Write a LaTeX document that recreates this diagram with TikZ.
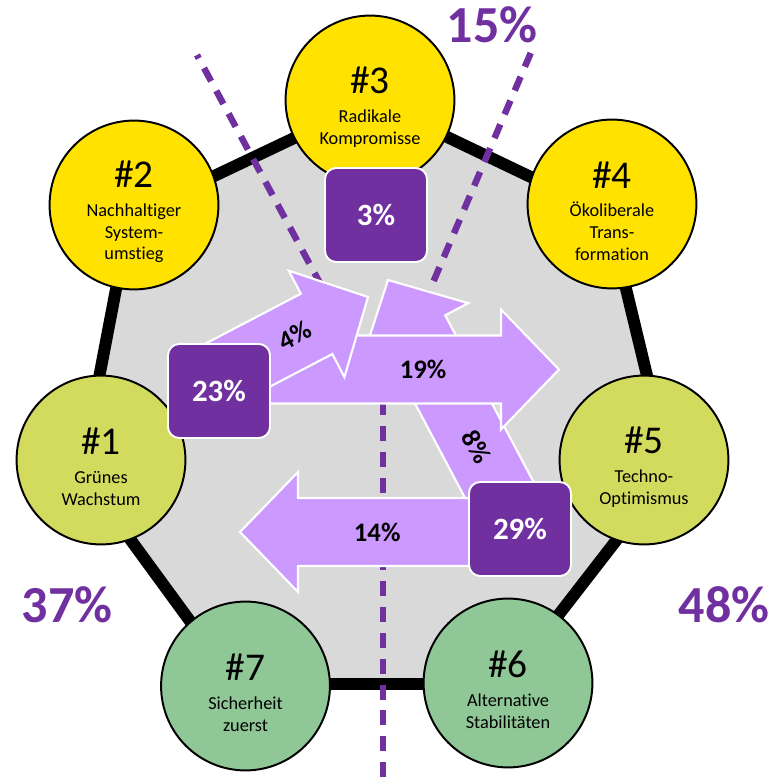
\documentclass[tikz,border=0pt]{standalone}
\usepackage{fontspec}
\setmainfont{Carlito}[Ligatures={TeX,NoCommon}]
\usetikzlibrary{calc}
\definecolor{ylw}{HTML}{FFE200}
\definecolor{grnylw}{HTML}{D3DB5E}
\definecolor{sage}{HTML}{8FC797}
\definecolor{boxpurple}{HTML}{7030A0}
\definecolor{lilac}{HTML}{CC99FF}
\definecolor{hexgray}{HTML}{D9D9D9}
\tikzset{
  circ/.style={circle,draw=black,line width=1.4pt,minimum size=4.22cm,inner sep=0pt},
  circtext/.style={align=center,font=\fontsize{13}{15.5}\selectfont,yshift=-5pt},
  sharebox/.style={rectangle,rounded corners=8pt,fill=boxpurple,draw=white,line width=1.4pt,
    minimum width=2.55cm,minimum height=2.35cm,text=white,font=\bfseries\fontsize{22}{24}\selectfont},
  arrowbody/.style={fill=lilac,draw=white,line width=1.5pt,line join=miter},
  arrowlbl/.style={font=\bfseries\fontsize{19}{21}\selectfont,sloped},
  splitline/.style={draw=boxpurple,line width=4.6pt,dash pattern=on 10.6pt off 7.8pt},
  sharelbl/.style={text=boxpurple,font=\bfseries\fontsize{37}{40}\selectfont}
}
\newcommand{\hashfont}{\fontsize{28}{30}\selectfont}
% block arrow from tail #1 to tip #2
\newcommand{\blockarrow}[2]{%
  \coordinate (hb) at ($(#2)!1.45cm!(#1)$);
  \draw[arrowbody] ($(#1)!0.85cm!90:(#2)$) -- ($(hb)!0.85cm!90:(#2)$) -- ($(hb)!1.5cm!90:(#2)$)
    -- (#2) -- ($(hb)!1.5cm!-90:(#2)$) -- ($(hb)!0.85cm!-90:(#2)$) -- ($(#1)!0.85cm!-90:(#2)$) -- cycle;
}
\begin{document}
\begin{tikzpicture}[x=0.025cm,y=-0.025cm]
\useasboundingbox (0,0) rectangle (784,781);
% heptagon
\coordinate (h1) at (81,472);
\coordinate (h2) at (130,216);
\coordinate (h3) at (372,101);
\coordinate (h4) at (608,214);
\coordinate (h5) at (670,471);
\coordinate (h6) at (505,684);
\coordinate (h7) at (236,684);
\draw[line width=8.5pt,fill=hexgray] (h1) -- (h2) -- (h3) -- (h4) -- (h5) -- (h6) -- (h7) -- cycle;

% dashed split lines
\coordinate (meet) at (383,400);
\coordinate (dtl) at (197,55);
\coordinate (dtr) at (532,50);
\coordinate (dbot) at (383,781);
\draw[splitline] (meet) -- (dtl);
\draw[splitline] (meet) -- (dtr);
\draw[splitline] (meet) -- (dbot);

% scenarios
\node[circ,fill=grnylw] (c1) at (101,460) {};
\node[circ,fill=ylw] (c2) at (134,205) {};
\node[circ,fill=ylw] (c3) at (370,100) {};
\node[circ,fill=ylw] (c4) at (612,204) {};
\node[circ,fill=grnylw] (c5) at (644,460) {};
\node[circ,fill=sage] (c6) at (508,683) {};
\node[circ,fill=sage] (c7) at (245.5,686) {};
\node[circtext] (t1) at (c1) {{\hashfont\#1}\\[5pt]Grünes\\Wachstum};
\node[circtext] (t2) at (c2) {{\hashfont\#2}\\[5pt]Nachhaltiger\\System-\\umstieg};
\node[circtext] (t3) at (c3) {{\hashfont\#3}\\[5pt]Radikale\\Kompromisse};
\node[circtext] (t4) at (c4) {{\hashfont\#4}\\[5pt]Ökoliberale\\Trans-\\formation};
\node[circtext] (t5) at (c5) {{\hashfont\#5}\\[5pt]Techno-\\Optimismus};
\node[circtext] (t6) at (c6) {{\hashfont\#6}\\[5pt]Alternative\\Stabilitäten};
\node[circtext] (t7) at (c7) {{\hashfont\#7}\\[5pt]Sicherheit\\zuerst};

% flows
\coordinate (tail8) at (520,529);
\coordinate (tip8) at (388,280);
\coordinate (tail14) at (520,532);
\coordinate (tip14) at (240,532);
\coordinate (tail19) at (240,369.5);
\coordinate (tip19) at (559,369.5);
\coordinate (tail4) at (215,377);
\coordinate (tip4) at (368,297);
\blockarrow{tail8}{tip8}
\path (tail8) -- (tip8) node[arrowlbl,pos=.33]{8\%};
\blockarrow{tail14}{tip14}
\path (tail14) -- (tip14) node[arrowlbl,pos=.51]{14\%};
\blockarrow{tail19}{tip19}
\path (tail19) -- (tip19) node[arrowlbl,pos=.574]{19\%};
\blockarrow{tail4}{tip4}
\path (tail4) -- (tip4) node[arrowlbl,pos=.52]{4\%};

% shares
\node[sharebox] (b3) at (376,215) {3\%};
\node[sharebox] (b23) at (219,391) {23\%};
\node[sharebox] (b29) at (520,529) {29\%};
\node[sharelbl] (s15) at (492,25) {15\%};
\node[sharelbl] (s37) at (67,605) {37\%};
\node[sharelbl] (s48) at (724,605) {48\%};
\end{tikzpicture}
\end{document}
